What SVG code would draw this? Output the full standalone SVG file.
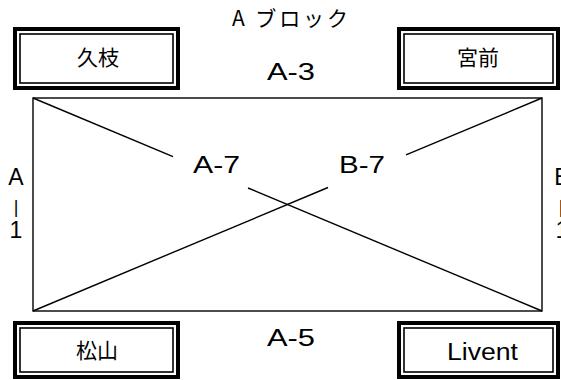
<svg xmlns="http://www.w3.org/2000/svg" width="561" height="380" viewBox="0 0 561 380">
<style>
.bo{fill:#fff;stroke:#000;stroke-width:4}
.bi{fill:none;stroke:#000;stroke-width:1.6}
.jp{font-family:"Noto Sans CJK JP","Liberation Sans",sans-serif;font-size:21px;fill:#000}
.lt{font-family:"Liberation Sans","Noto Sans CJK JP",sans-serif;font-size:23px;fill:#000}
.ln{stroke:#000;stroke-width:1.4;fill:none}
</style>
<rect width="561" height="380" fill="#fff"/>
<g id="plan">
<rect x="33" y="98" width="509" height="213" class="ln"/>
</g>
<g id="connectors">
<line x1="33" y1="98" x2="173" y2="156.6" class="ln"/>
<line x1="248" y1="188" x2="542" y2="311" class="ln"/>
<line x1="33" y1="311" x2="328" y2="187.5" class="ln"/>
<line x1="406" y1="154.9" x2="542" y2="98" class="ln"/>
</g>
<g id="title">
<text x="232" y="26" class="jp" textLength="116" lengthAdjust="spacing">A ブロック</text>
</g>
<g id="hisae">
<rect x="15" y="29" width="163" height="59" class="bo"/>
<rect x="20" y="34" width="153" height="49" class="bi"/>
<text x="98" y="65" class="jp" text-anchor="middle">久枝</text>
</g>
<g id="miyamae">
<rect x="399" y="29" width="159" height="59" class="bo"/>
<rect x="404" y="34" width="149" height="49" class="bi"/>
<text x="478" y="65" class="jp" text-anchor="middle">宮前</text>
</g>
<g id="matsuyama">
<rect x="15" y="323" width="163" height="54" class="bo"/>
<rect x="20" y="328" width="153" height="44" class="bi"/>
<text x="97" y="358" class="jp" text-anchor="middle">松山</text>
</g>
<g id="livent">
<rect x="399" y="323" width="159" height="54" class="bo"/>
<rect x="404" y="328" width="149" height="44" class="bi"/>
<text x="447" y="360" class="lt" textLength="71" lengthAdjust="spacingAndGlyphs">Livent</text>
</g>
<g id="labels">
<text x="267" y="80" class="lt" textLength="48" lengthAdjust="spacingAndGlyphs">A-3</text>
<text x="267" y="346" class="lt" textLength="48" lengthAdjust="spacingAndGlyphs">A-5</text>
<text x="193" y="173" class="lt" textLength="47" lengthAdjust="spacingAndGlyphs">A-7</text>
<text x="339" y="173" class="lt" textLength="46" lengthAdjust="spacingAndGlyphs">B-7</text>
<text x="16" y="185" class="lt" text-anchor="middle">A</text>
<text x="16" y="213" class="lt" text-anchor="middle" style="font-size:18px">|</text>
<text x="16" y="238" class="lt" text-anchor="middle">1</text>
<text x="562" y="185" class="lt" text-anchor="middle">B</text>
<text x="561" y="213" class="lt" text-anchor="middle" style="font-size:18px">|</text>
<text x="562" y="238" class="lt" text-anchor="middle">1</text>
</g>
</svg>
